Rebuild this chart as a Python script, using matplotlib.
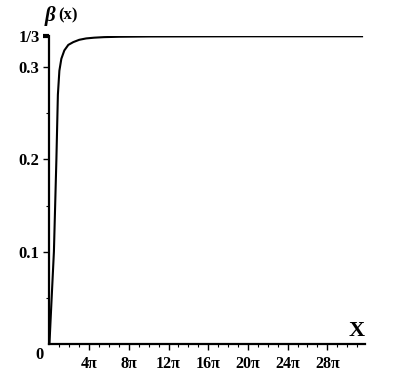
import numpy as np
import matplotlib.pyplot as plt

# beta(x), x in units of pi
x_pi = [0, 0.2, 0.45, 0.7, 0.85, 1.0, 1.2, 1.5, 1.9, 2.4, 3.0, 3.7, 4.5, 5.5, 7, 10, 15, 20, 25, 31.5]
beta = [0, 0.045, 0.1, 0.2, 0.27, 0.296, 0.309, 0.318, 0.324, 0.327, 0.3295, 0.331,
        0.3318, 0.3324, 0.3328, 0.3331, 0.3332, 0.3333, 0.3333, 0.3333]

xticks = [4, 8, 12, 16, 20, 24, 28]
xtick_labels = ["4π", "8π", "12π", "16π", "20π", "24π", "28π"]
yticks = [0.1, 0.2, 0.3, 1 / 3]
ytick_labels = ["0.1", "0.2", "0.3", "1/3"]

serif = ["Liberation Serif", "DejaVu Serif"]

fig = plt.figure(figsize=(4.02, 3.90), dpi=100)
ax = fig.add_axes([0.123, 0.118, 0.785, 0.789])

ax.plot(np.array(x_pi) * np.pi, beta, color="black", lw=1.5)

ax.set_xlim(0, 31.8 * np.pi)
ax.set_ylim(0, 1 / 3)
for s in ("top", "right"):
    ax.spines[s].set_visible(False)
for s in ("left", "bottom"):
    ax.spines[s].set_linewidth(1.6)

ax.set_xticks(np.array(xticks) * np.pi)
ax.set_xticklabels(xtick_labels, fontfamily=serif, fontweight="bold", fontsize=11.5)
ax.set_xticks(np.arange(1, 32) * np.pi, minor=True)
ax.set_yticks(yticks)
ax.set_yticklabels(ytick_labels, fontfamily=serif, fontweight="bold", fontsize=12)
ax.set_yticks([0.05, 0.15, 0.25], minor=True)
ax.tick_params(axis="both", which="major", length=4, width=1, pad=3)
ax.tick_params(axis="both", which="minor", length=2, width=0.8)
ax.tick_params(axis="x", pad=5)
# the 1/3 mark is a heavier dash
ax.yaxis.get_major_ticks()[3].tick1line.set_markeredgewidth(3)

fig.text(0.908, 0.125, "X", fontfamily=serif, fontweight="bold", fontsize=16,
         ha="right", va="bottom")
fig.text(0.110, 0.958, "β", fontfamily=serif, fontweight="bold", fontstyle="italic",
         fontsize=15, ha="left", va="center")
fig.text(0.145, 0.960, "(x)", fontfamily=serif, fontweight="bold", fontsize=12,
         ha="left", va="center")
fig.text(0.087, 0.110, "0", fontfamily=serif, fontweight="bold", fontsize=12,
         ha="left", va="top")

fig.savefig("out.png", dpi=100)
